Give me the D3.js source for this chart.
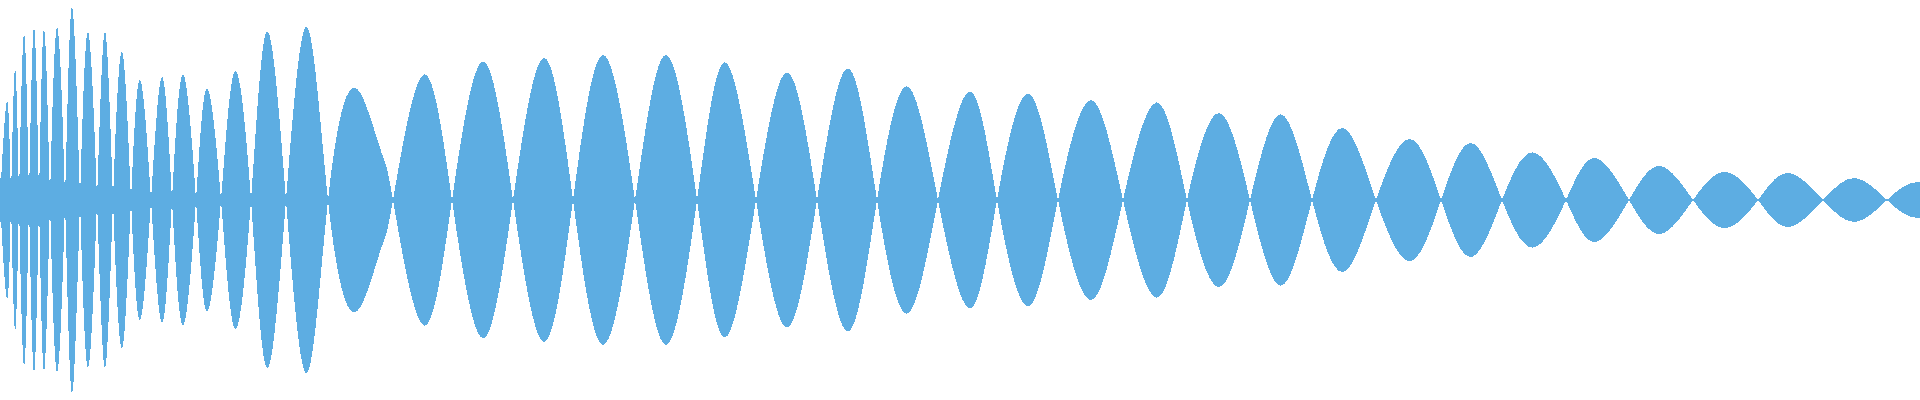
<!DOCTYPE html>
<html lang="en">
<head>
<meta charset="utf-8">
<script src="https://d3js.org/d3.v7.min.js"></script>
<style>
  body { margin: 0; background: #fff; overflow: hidden; }
  svg { display: block; }
</style>
</head>
<body>
<svg id="chart"></svg>
<script>
// zero crossings of the waveform (ms) and the envelope left at each one
const crossings = [0, 11, 19, 29, 39, 50, 65, 80, 97, 113, 131, 151, 172, 196, 221, 251, 286, 328,
  393, 452, 513, 573, 635, 697, 756, 817, 877, 938, 997, 1058, 1123, 1187, 1250, 1312, 1376,
  1441, 1502, 1566, 1629, 1693, 1758, 1823, 1887, 1950];
const crossingAmps = [0.11, 0.11, 0.11, 0.11, 0.1, 0.1, 0.08, 0.07, 0.07, 0.06, 0.03, 0.03, 0.03,
  0.025, 0.02, 0.02, 0.02, 0.02, 0.015, 0.015, 0.015, 0.015, 0.012, 0.012, 0.012, 0.012, 0.012,
  0.012, 0.01, 0.01, 0.01, 0.01, 0.01, 0.008, 0.008, 0.008, 0.008, 0.008, 0.006, 0.006, 0.006,
  0.006, 0.006, 0.006];

// one peak per lobe (ms, normalised amplitude)
const peakTimes = [7, 15, 24, 34, 44, 57, 72, 88, 105, 122, 140, 162, 183, 207, 235, 267, 307, 349,
  423, 483, 544, 603, 666, 725, 787, 848, 907, 970, 1028, 1091, 1157, 1219, 1281, 1343, 1410,
  1471, 1533, 1595, 1660, 1725, 1788, 1855, 1918];
const peakAmps = [0.495, 0.655, 0.83, 0.865, 0.855, 0.862, 0.965, 0.84, 0.84, 0.742, 0.6, 0.615,
  0.628, 0.558, 0.645, 0.842, 0.865, 0.542, 0.625, 0.692, 0.71, 0.725, 0.725, 0.688, 0.638, 0.658,
  0.568, 0.542, 0.532, 0.5, 0.488, 0.435, 0.428, 0.36, 0.305, 0.285, 0.238, 0.21, 0.17, 0.14,
  0.135, 0.11, 0.09];

// the odd lobe with a shoulder on its falling side
const shoulderTimes = [367, 382];
const shoulderAmps = [0.46, 0.23];

const width = 1920, height = 400;
const color = '#5dade2';

const svg = d3.select('#chart')
  .attr('width', width)
  .attr('height', height);

const x = d3.scaleLinear().domain([0, 1920]).range([0, width]);
const y = d3.scaleLinear().domain([-1, 1]).range([height, 0]);

// signed signal: lobes alternate above / below zero
const signal = [];
peakTimes.forEach((t, i) => {
  const sign = i % 2 ? -1 : 1;
  signal.push({ t: crossings[i], v: 0 });
  const pts = [{ t: t, v: sign * peakAmps[i] }];
  shoulderTimes.forEach((st, j) => {
    if (st > crossings[i] && st < crossings[i + 1]) pts.push({ t: st, v: sign * shoulderAmps[j] });
  });
  pts.sort((p, q) => p.t - q.t).forEach(p => signal.push(p));
});
signal.push({ t: crossings[crossings.length - 1], v: 0 });

const floor = crossings.map((t, i) => ({ t: t, a: crossingAmps[i] }));

const g = svg.append('g').attr('shape-rendering', 'crispEdges');

// thin band that stays open at the zero crossings
g.append('path')
  .datum(floor)
  .attr('fill', color)
  .attr('d', d3.area()
    .x(d => x(d.t))
    .y0(d => y(-d.a))
    .y1(d => y(d.a))
    .curve(d3.curveMonotoneX));

// mirrored waveform
g.append('path')
  .datum(signal)
  .attr('fill', color)
  .attr('fill-rule', 'nonzero')
  .attr('d', d3.area()
    .x(d => x(d.t))
    .y0(d => y(-d.v))
    .y1(d => y(d.v))
    .curve(d3.curveNatural));
</script>
</body>
</html>
